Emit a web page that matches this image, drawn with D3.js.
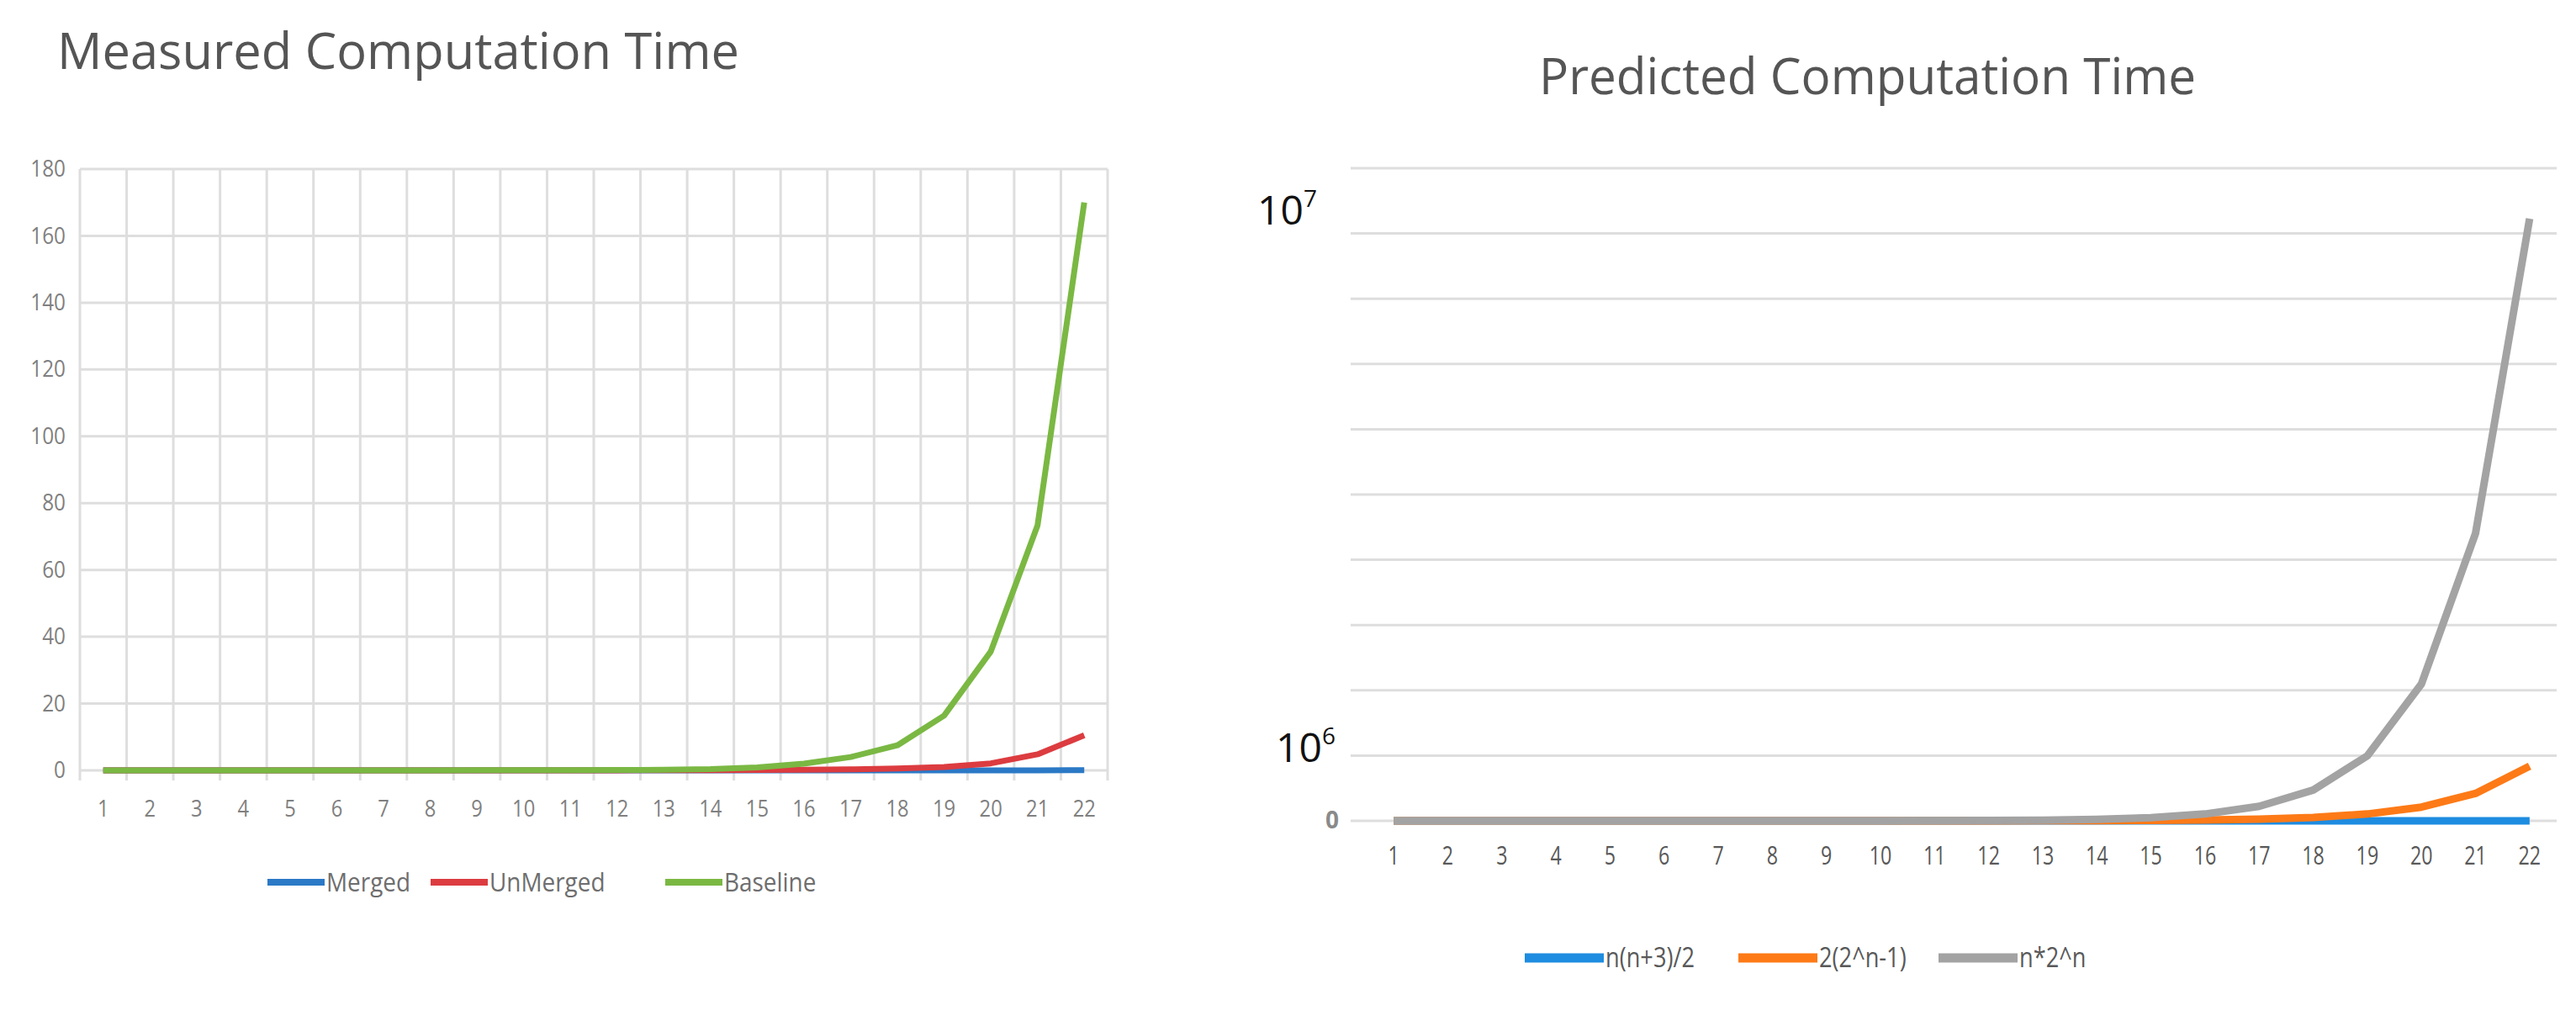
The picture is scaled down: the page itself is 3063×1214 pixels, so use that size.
<!DOCTYPE html>
<html><head><meta charset="utf-8">
<script src="https://cdn.jsdelivr.net/npm/d3@7"></script>
<style>
html,body{margin:0;padding:0;background:#fff;}
svg{display:block;}
text{font-family:"Open Sans","Noto Sans",sans-serif;}
</style></head>
<body>
<svg id="c" width="3063" height="1214"></svg>
<script>
// ---------- data ----------
const categories = [1,2,3,4,5,6,7,8,9,10,11,12,13,14,15,16,17,18,19,20,21,22];

// Measured computation time (left chart)
const measuredSeriesNames = ["Merged","UnMerged","Baseline"];
const merged   = [0,0,0,0,0,0,0,0,0,0,0,0,0,0,0,0.01,0.01,0.01,0.02,0.02,0.03,0.05];
const unmerged = [0,0,0,0,0,0,0,0,0.01,0.01,0.02,0.03,0.05,0.08,0.13,0.2,0.3,0.55,1.0,2.1,4.8,10.5];
const baseline = [0.01,0.01,0.01,0.01,0.01,0.02,0.02,0.03,0.04,0.05,0.07,0.1,0.17,0.35,0.9,2.0,4.0,7.5,16.4,35.6,73.3,170];
const measuredTicks = [0,20,40,60,80,100,120,140,160,180];

// Predicted computation time (right chart)
const predictedSeriesNames = ["n(n+3)/2","2(2^n-1)","n*2^n"];
const linear = [2,5,9,14,20,27,35,44,54,65,77,90,104,119,135,152,170,189,209,230,252,275];
const twoPow = [2,6,14,30,62,126,254,510,1022,2046,4094,8190,16382,32766,65534,131070,262142,524286,1048574,2097150,4194302,8388606];
const nTwoPow = [2,8,24,64,160,384,896,2048,4608,10240,22528,49152,106496,229376,491520,1048576,2228224,4718592,9961472,20971520,44040192,92274688];
const predictedGrid = [0,1e7,2e7,3e7,4e7,5e7,6e7,7e7,8e7,9e7,1e8];
const predictedTickLabels = [{base:"10",exp:"7",value:9.35e7},{base:"10",exp:"6",value:1.12e7}];

// ---------- drawing ----------
const svg = d3.select("#c");
const gridColor = "#dedede";

function condense(sel, f){
  sel.each(function(){
    const w = this.getComputedTextLength();
    this.setAttribute("textLength", (w*f).toFixed(1));
    this.setAttribute("lengthAdjust","spacingAndGlyphs");
  });
}

// ===== Left chart =====
{
  const x = d3.scaleBand().domain(categories).range([95,1317]);
  const y = d3.scaleLinear().domain([0,180]).range([916,201]);
  const g = svg.append("g");
  const colors = ["#2b79c6","#dc3c40","#7ab843"];
  const series = [merged, unmerged, baseline];

  g.append("text").attr("x",68).attr("y",82).attr("font-size",60).attr("fill","#555")
    .attr("textLength",811).attr("lengthAdjust","spacingAndGlyphs")
    .text("Measured Computation Time");

  g.selectAll(".hg").data(measuredTicks).join("line")
    .attr("x1",x.range()[0]).attr("x2",x.range()[1])
    .attr("y1",d=>y(d)).attr("y2",d=>y(d))
    .attr("stroke",gridColor).attr("stroke-width",3);
  const bounds = categories.map(c=>x(c)).concat([x.range()[1]]);
  g.selectAll(".vg").data(bounds).join("line")
    .attr("x1",d=>d).attr("x2",d=>d).attr("y1",y(180)).attr("y2",y(0)+12)
    .attr("stroke",gridColor).attr("stroke-width",3);

  const ya = g.append("g").attr("transform",`translate(${x.range()[0]},0)`)
    .call(d3.axisLeft(y).tickValues(measuredTicks).tickSize(0).tickPadding(17));
  ya.select(".domain").remove();
  ya.selectAll("text").attr("font-size",27).attr("fill","#808080").attr("font-family","Open Sans").call(condense,0.9);

  const xa = g.append("g").attr("transform",`translate(0,${y(0)})`)
    .call(d3.axisBottom(x).tickSize(0).tickPadding(36));
  xa.select(".domain").remove();
  xa.selectAll("text").attr("font-size",27).attr("fill","#808080").attr("font-family","Open Sans").call(condense,0.88);

  const line = d3.line().x((d,i)=>x(categories[i])+x.bandwidth()/2).y(d=>y(d));
  series.forEach((s,k)=>{
    g.append("path").datum(s).attr("d",line).attr("fill","none")
      .attr("stroke",colors[k]).attr("stroke-width",7).attr("stroke-linejoin","round");
  });

  const lx = [318,512,791];
  measuredSeriesNames.forEach((n,k)=>{
    g.append("line").attr("x1",lx[k]).attr("x2",lx[k]+68).attr("y1",1049).attr("y2",1049)
      .attr("stroke",colors[k]).attr("stroke-width",8);
    g.append("text").attr("x",lx[k]+70).attr("y",1060).attr("font-size",31).attr("fill","#6e6e6e").text(n).call(condense,0.9);
  });
}

// ===== Right chart =====
{
  const x = d3.scaleBand().domain(categories).range([1625,3040]);
  const y = d3.scaleLinear().domain([0,1e8]).range([976,200]);
  const g = svg.append("g");
  const colors = ["#1e8ce0","#fd7a17","#a3a3a3"];
  const series = [linear, twoPow, nTwoPow];

  g.append("text").attr("x",1830).attr("y",112).attr("font-size",60).attr("fill","#555")
    .attr("textLength",781).attr("lengthAdjust","spacingAndGlyphs")
    .text("Predicted Computation Time");

  g.selectAll(".hg").data(predictedGrid).join("line")
    .attr("x1",1606).attr("x2",x.range()[1])
    .attr("y1",d=>y(d)).attr("y2",d=>y(d))
    .attr("stroke",gridColor).attr("stroke-width",3);

  const ya = g.append("g").attr("transform",`translate(1606,0)`)
    .call(d3.axisLeft(y).tickValues([0]).tickSize(0).tickPadding(14));
  ya.select(".domain").remove();
  ya.selectAll("text").attr("font-size",28).attr("fill","#8a8a8a").attr("font-weight","bold");

  predictedTickLabels.forEach(t=>{
    const tx = g.append("text").attr("x",t.exp==="7"?1566:1588).attr("y",y(t.value)+17)
      .attr("text-anchor","end").attr("font-family","DejaVu Sans").attr("font-size",48).attr("fill","#111");
    tx.append("tspan").text(t.base);
    tx.append("tspan").attr("font-size",28).attr("dy",-21).text(t.exp);
  });

  const xa = g.append("g").attr("transform",`translate(0,${y(0)})`)
    .call(d3.axisBottom(x).tickSize(0).tickPadding(30));
  xa.select(".domain").remove();
  xa.selectAll("text").attr("font-size",31).attr("fill","#595959").call(condense,0.75);

  const line = d3.line().x((d,i)=>x(categories[i])+x.bandwidth()/2).y(d=>y(d));
  series.forEach((s,k)=>{
    g.append("path").datum(s).attr("d",line).attr("fill","none")
      .attr("stroke",colors[k]).attr("stroke-width",9).attr("stroke-linejoin","round");
  });

  const lx = [1813,2067,2305];
  predictedSeriesNames.forEach((n,k)=>{
    g.append("line").attr("x1",lx[k]).attr("x2",lx[k]+94).attr("y1",1139).attr("y2",1139)
      .attr("stroke",colors[k]).attr("stroke-width",11);
    g.append("text").attr("x",lx[k]+96).attr("y",1150).attr("font-size",32).attr("fill","#595959").text(n).call(condense,0.85);
  });
}
</script>
</body></html>
